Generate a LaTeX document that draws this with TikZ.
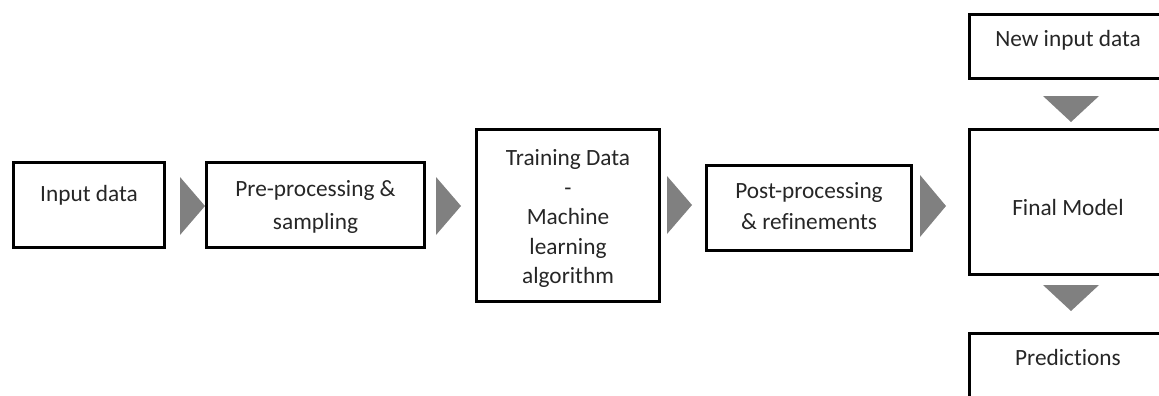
\documentclass[tikz,border=0pt]{standalone}
\usepackage{fontspec}
\setmainfont{Carlito}[Ligatures=NoCommon]
\definecolor{arrowgray}{HTML}{808080}
\definecolor{txtcol}{HTML}{262626}
\begin{document}
\begin{tikzpicture}[x=1pt,y=-1pt,
  box/.style={draw=black, line width=3.2pt, rectangle, inner sep=0pt},
  lbl/.style={text=txtcol, align=center, inner sep=0pt, anchor=base},
  tri/.style={fill=arrowgray, draw=none}]
\useasboundingbox (0,0) rectangle (1159,396);
\clip (0,0) rectangle (1159,396);
% boxes
\node[box, minimum width=151pt, minimum height=85pt] (in) at (89,205) {};
\node[box, minimum width=218pt, minimum height=85pt] (pre) at (315.5,205) {};
\node[box, minimum width=183pt, minimum height=172pt] (train) at (568,215.5) {};
\node[box, minimum width=205pt, minimum height=85pt] (post) at (809,208) {};
\node[box, minimum width=197pt, minimum height=145pt] (final) at (1068,202) {};
\node[box, minimum width=197pt, minimum height=64pt] (newin) at (1068,46.5) {};
\node[box, minimum width=197pt, minimum height=90pt] (pred) at (1068,378.5) {};
% texts (multi-line nodes are anchored at the baseline of their last line)
\node[lbl, font=\fontsize{23.3}{29.5}\selectfont] (tin) at (89,201.5) {Input data};
\node[lbl, font=\fontsize{23.3}{32.6}\selectfont] (tpre) at (315.5,229.3) {Pre-processing \&\\sampling};
\node[lbl, font=\fontsize{23.3}{29.45}\selectfont] (ttrain) at (568,283.5) {Training Data\\-\\Machine\\learning\\algorithm};
\node[lbl, font=\fontsize{23.3}{31}\selectfont] (tpost) at (809,229) {Post-processing\\\& refinements};
\node[lbl, font=\fontsize{23.3}{29.5}\selectfont] (tnew) at (1068,46.7) {New input data};
\node[lbl, font=\fontsize{23.3}{29.5}\selectfont] (tfin) at (1068,215.7) {Final Model};
\node[lbl, font=\fontsize{23.3}{29.5}\selectfont] (tpred) at (1068,365) {Predictions};
% arrows
\fill[tri] (180,177) -- (205,206) -- (180,235) -- cycle;
\fill[tri] (436,177) -- (461,206) -- (436,235) -- cycle;
\fill[tri] (667,176) -- (692,205) -- (667,234) -- cycle;
\fill[tri] (920,175) -- (946,206) -- (920,237) -- cycle;
\fill[tri] (1043,96) -- (1099,96) -- (1071,122) -- cycle;
\fill[tri] (1043,285) -- (1099,285) -- (1071,311) -- cycle;
\end{tikzpicture}
\end{document}
